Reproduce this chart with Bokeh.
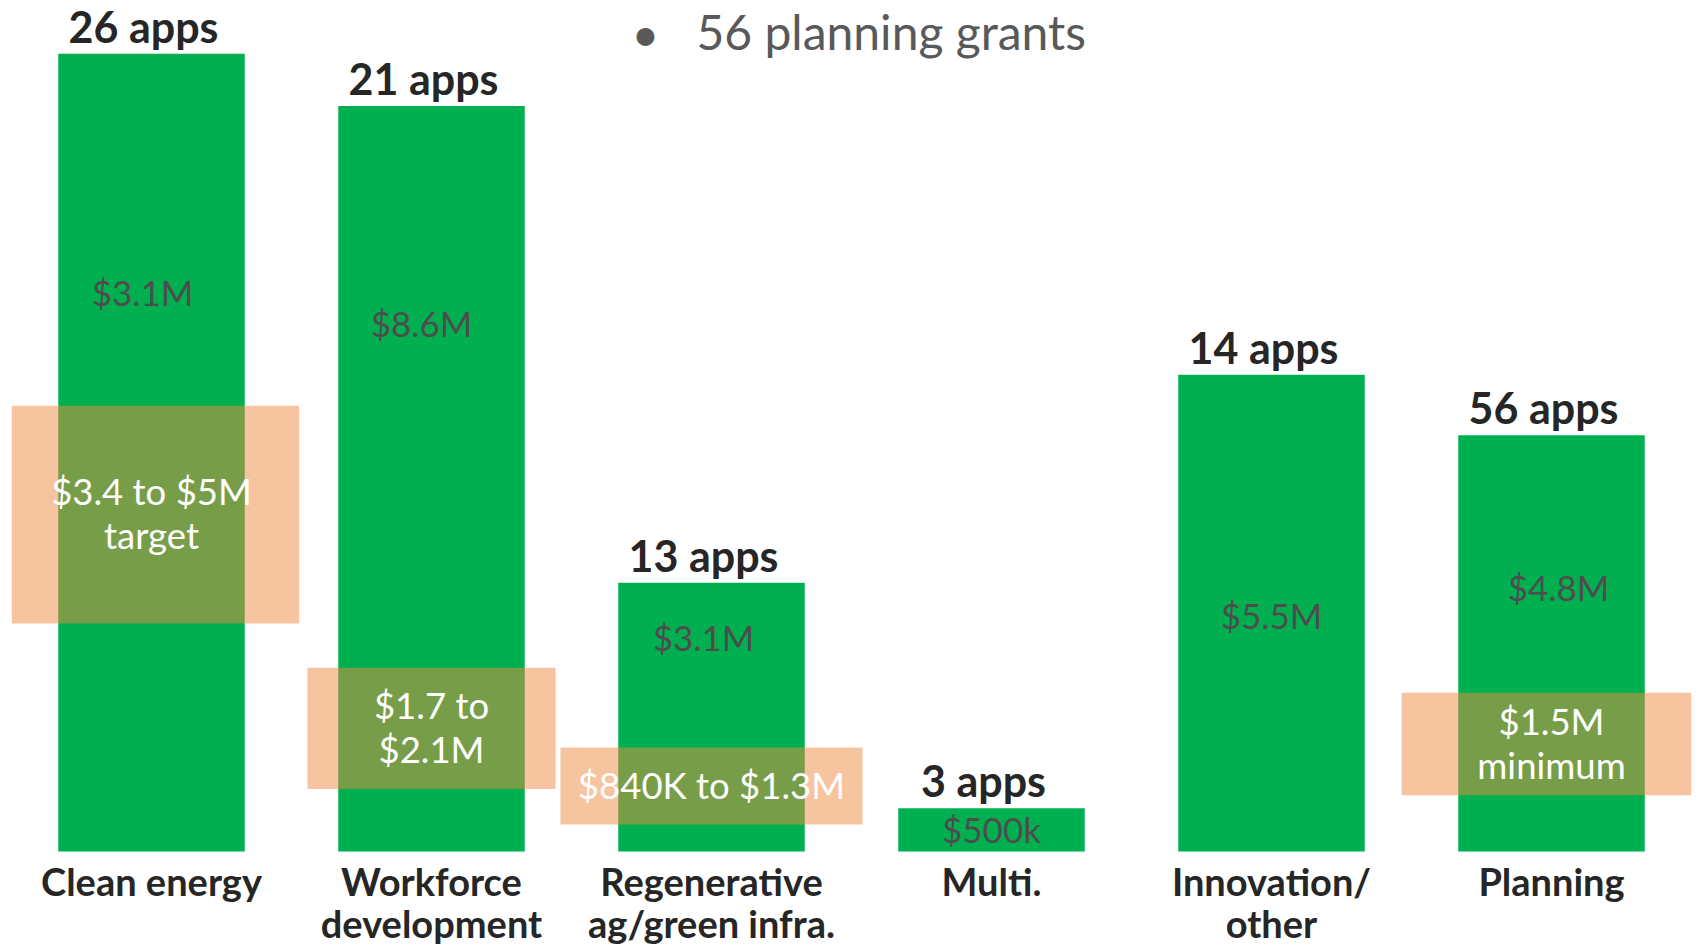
from bokeh.plotting import figure
from bokeh.models import FactorRange, Range1d, ColumnDataSource
from bokeh.core.properties import value
from bokeh.embed import file_html
from bokeh.resources import INLINE

# ---------------- data ----------------
categories = ["Clean energy", "Workforce development", "Regenerative ag/green infra.",
              "Multi.", "Innovation/ other", "Planning"]
category_lines = [["Clean energy"], ["Workforce", "development"],
                  ["Regenerative", "ag/green infra."], ["Multi."],
                  ["Innovation/", "other"], ["Planning"]]
apps = [26, 21, 13, 3, 14, 56]
bar_millions = [9.2, 8.6, 3.1, 0.5, 5.5, 4.8]
bar_labels = ["$3.1M", "$8.6M", "$3.1M", "$500k", "$5.5M", "$4.8M"]

target_categories = ["Clean energy", "Workforce development",
                     "Regenerative ag/green infra.", "Planning"]
target_low = [2.63, 0.72, 0.31, 0.65]
target_high = [5.14, 2.12, 1.20, 1.83]
target_labels = [["$3.4 to $5M", "target"], ["$1.7 to", "$2.1M"],
                 ["$840K to $1.3M"], ["$1.5M", "minimum"]]

title_text = "56 planning grants"

# ---------------- layout / style ----------------
PX_PER_M = 86.7
W, H = 1700, 948
ZERO_PX = 851               # distance of the bars' base from top of figure
y_start = -(H - ZERO_PX) / PX_PER_M
y_end = ZERO_PX / PX_PER_M

bar_width = 0.666
target_widths = [1.054, 0.886, 1.079, 1.071]
value_label_y = [6.29, 5.93, 2.31, 0.09, 2.56, 2.88]
value_label_dx = [-9, -10, -8, 0, 0, 7]

FONT = value("Lato")
GREEN = "#00B050"
ORANGE = "#F08A42"
DARK = "#262626"
GRAY = "#4D4D4D"
FIX = 0.41   # baseline correction, in em


def fix(size):
    return -FIX * size


p = figure(width=W, height=H, x_range=FactorRange(*categories, range_padding=0),
           y_range=Range1d(y_start, y_end), output_backend="svg",
           toolbar_location=None, min_border=0,
           min_border_left=11, min_border_right=9)
p.axis.visible = False
p.grid.visible = False
p.outline_line_color = None
p.background_fill_color = "white"
p.border_fill_color = "white"

# bars
p.vbar(x=categories, top=bar_millions, bottom=0, width=bar_width,
       fill_color=GREEN, line_color=None)

# target boxes
p.vbar(x=target_categories, bottom=target_low, top=target_high, width=target_widths,
       fill_color=ORANGE, fill_alpha=0.5, line_color=None)

# app-count labels
p.text(x=categories, y=bar_millions, text=[f"{n} apps" for n in apps],
       text_font=FONT, text_font_style="bold", text_font_size="43px",
       text_color=DARK, text_align="center", text_baseline="alphabetic",
       x_offset=-8, y_offset=-10 + fix(43))

# value labels inside the bars
p.text(x="x", y="y", text="t", x_offset="dx",
       source=ColumnDataSource(dict(x=categories, y=value_label_y, t=bar_labels,
                                    dx=value_label_dx)),
       text_font=FONT, text_font_size="35px", text_color=GRAY,
       text_align="center", text_baseline="alphabetic", y_offset=fix(35))

# target box labels
tx, ty, tt, toff = [], [], [], []
for cat, lo, hi, lines in zip(target_categories, target_low, target_high, target_labels):
    n = len(lines)
    for i, line in enumerate(lines):
        tx.append(cat)
        ty.append((lo + hi) / 2)
        tt.append(line)
        toff.append(13.5 + (i - (n - 1) / 2) * 44 + fix(36.5))
p.text(x="x", y="y", text="t", y_offset="o",
       source=ColumnDataSource(dict(x=tx, y=ty, t=tt, o=toff)),
       text_font=FONT, text_font_size="36.5px", text_color="white",
       text_align="center", text_baseline="alphabetic")

# category labels under the bars
cx, ct, co = [], [], []
for cat, lines in zip(categories, category_lines):
    for i, line in enumerate(lines):
        cx.append(cat)
        ct.append(line)
        co.append(45 + 42 * i + fix(38))
p.text(x="x", y=0, text="t", y_offset="o",
       source=ColumnDataSource(dict(x=cx, t=ct, o=co)),
       text_font=FONT, text_font_style="bold", text_font_size="38px",
       text_color=DARK, text_align="center", text_baseline="alphabetic")

# bullet title (kept fully inside the page)
title_y = (ZERO_PX - 49) / PX_PER_M
p.text(x=[categories[2]], y=[title_y], text=["\u2022"], x_offset=-66,
       text_font=FONT, text_font_size="48px", text_color="#595959",
       text_align="center", text_baseline="alphabetic", y_offset=fix(48) + 3)
p.text(x=[categories[2]], y=[title_y], text=[title_text], x_offset=-15,
       text_font=FONT, text_font_size="48px", text_color="#595959",
       text_align="left", text_baseline="alphabetic", y_offset=fix(48) + 2)

open("out.html", "w").write(file_html(p, INLINE))
